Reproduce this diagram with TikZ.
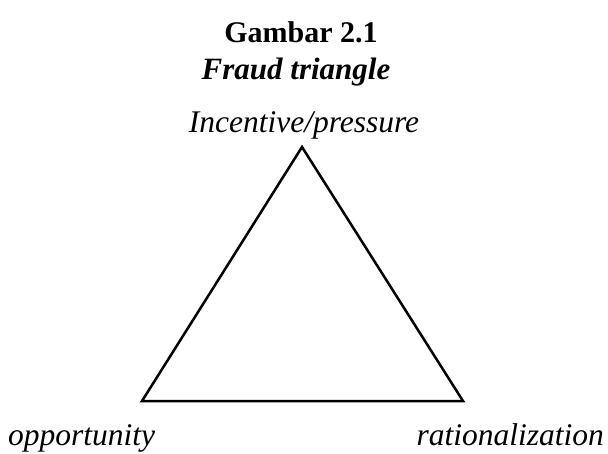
\documentclass[tikz,border=0pt]{standalone}
\usepackage{fontspec}
\setmainfont{Liberation Serif}
\begin{document}
\begin{tikzpicture}[x=1pt,y=-1pt,
  lbl/.style={font=\fontsize{31.5}{36}\selectfont\itshape, inner sep=0pt, anchor=base},
  ttl/.style={font=\fontsize{30}{36}\selectfont\bfseries, inner sep=0pt, anchor=base},
  edge/.style={line width=2.5pt, line join=miter}]
\path[use as bounding box] (0,0) rectangle (608,453);
\node[ttl] (t1) at (301,42) {Gambar 2.1};
\node[ttl, font=\fontsize{31}{36}\selectfont\bfseries\itshape] (t2) at (296,79) {Fraud triangle};
\node[lbl] (inc) at (304,132) {Incentive/pressure};
\node[lbl, anchor=base west] (opp) at (8,445) {opportunity};
\node[lbl, anchor=base east] (rat) at (604,445) {rationalization};
\coordinate (A) at (302,147);
\coordinate (B) at (142,401);
\coordinate (C) at (463,401);
\draw[edge] (A) -- (B) -- (C) -- cycle;
\end{tikzpicture}
\end{document}
